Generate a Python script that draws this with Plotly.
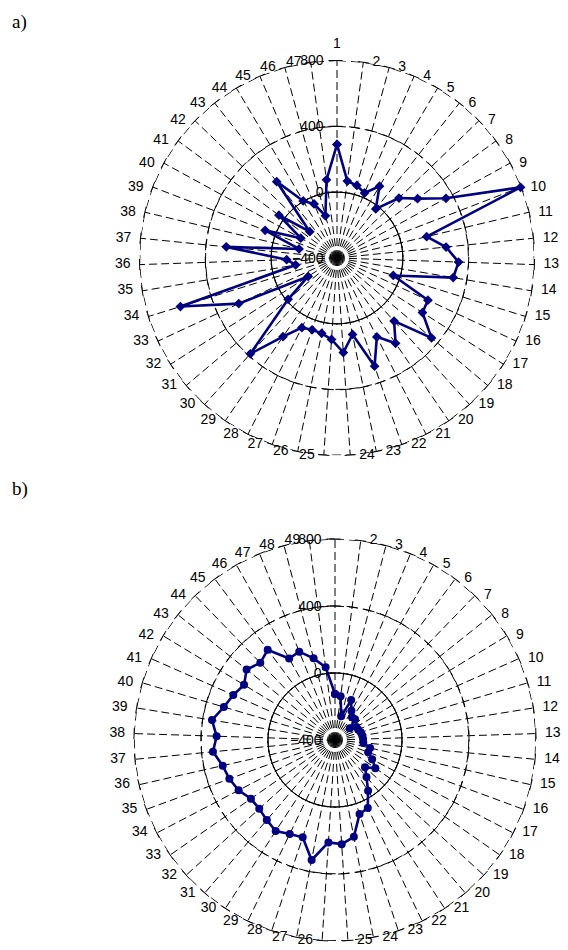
import plotly.graph_objects as go

# ---- data -------------------------------------------------------------
cats_a = [str(i) for i in range(1, 48)]
vals_a = [290, 72, 57, 29, 107, -20, 124, 208, 355, 795,
          160, 266, 339, 316, -42, 209, 216, 352, 117, 229,
          137, 296, 74, 176, 96, 67, 62, 74, 180, 385,
          -11, -192, 258, 596, -145, -94, 276, -163, 68, -149,
          38, -170, 191, 3, -43, -134, 79]

cats_b = [str(i) for i in range(1, 50)]
vals_b = [-125, -137, -254, -143, -200, -230, -228, -287, -250, -248,
          -240, -235, -232, -230, -185, -189, -150, -106, -158, -110,
          -38, 51, 65, 189, 223, 213, 330, 212, 223, 249,
          228, 211, 212, 249, 272, 288, 332, 307, 344, 292,
          264, 235, 275, 241, 272, 158, 169, 104, 38]
# the label of category 1 is not printed on panel b
labels_b = [""] + cats_b[1:]

radial_ticks = [-400, 0, 400, 800]
ring_levels = [0, 400, 800]
r_min, r_max = -400, 800

# ---- style ------------------------------------------------------------
W, H = 568, 950
NAVY = "#000080"
SANS = "Arial, 'Liberation Sans', sans-serif"
SERIF = "'Times New Roman', 'Liberation Serif', serif"

fig = go.Figure()


def add_radar(subplot, cats, vals, labels, symbol, msize):
    closed = cats + cats[:1]
    n = len(cats)
    spoke_angles = [i * 360.0 / n for i in range(n)]
    for lvl in ring_levels:
        fig.add_trace(go.Scatterpolar(
            r=[lvl] * len(closed), theta=closed, mode="lines",
            line=dict(color="black", width=1,
                      dash="solid" if lvl == 0 else "9px,5px"),
            subplot=subplot, hoverinfo="skip", showlegend=False))
        # value-axis tick marks repeated on every spoke
        fig.add_trace(go.Scatterpolar(
            r=[lvl] * n, theta=cats, mode="markers",
            marker=dict(symbol="line-ew", size=8, angle=spoke_angles,
                        line=dict(color="black", width=1)),
            subplot=subplot, hoverinfo="skip", showlegend=False))
    # category labels just outside the outer ring
    positions = ["top center" if a == 0 else
                 ("middle right" if a < 180 else "middle left")
                 for a in spoke_angles]
    fig.add_trace(go.Scatterpolar(
        r=[r_max] * n, theta=cats, mode="markers+text", text=labels,
        textposition=positions, cliponaxis=False,
        textfont=dict(family=SANS, size=14, color="black"),
        marker=dict(size=13, color="rgba(0,0,0,0)"),
        subplot=subplot, hoverinfo="skip", showlegend=False))
    fig.add_trace(go.Scatterpolar(
        r=vals + vals[:1], theta=closed, mode="lines+markers",
        line=dict(color=NAVY, width=2.6),
        marker=dict(symbol=symbol, size=msize, color=NAVY),
        subplot=subplot, showlegend=False))


add_radar("polar", cats_a, vals_a, cats_a, "diamond", 7.5)
add_radar("polar2", cats_b, vals_b, labels_b, "circle", 8)


def polar_layout(cx, cy, R, cats):
    return dict(
        domain=dict(x=[(cx - R) / W, (cx + R) / W],
                    y=[1 - (cy + R) / H, 1 - (cy - R) / H]),
        bgcolor="white",
        radialaxis=dict(range=[r_min, r_max], tickmode="array",
                        tickvals=radial_ticks, angle=90,
                        side="counterclockwise", showgrid=False,
                        showline=False, ticks="outside", ticklen=8,
                        tickcolor="black", tickangle=90,
                        tickfont=dict(family=SANS, size=14, color="black")),
        angularaxis=dict(type="category", rotation=90, direction="clockwise",
                         categoryorder="array", categoryarray=cats,
                         showticklabels=False,
                         showline=False, showgrid=True, gridcolor="black",
                         gridwidth=1, griddash="8px,4px", ticks=""),
    )


fig.update_layout(
    width=W, height=H, margin=dict(l=0, r=0, t=0, b=0),
    paper_bgcolor="white", plot_bgcolor="white",
    polar=polar_layout(337, 258, 197.5, cats_a),
    polar2=polar_layout(335, 740, 201, cats_b),
    annotations=[
        dict(text="a)", x=10 / W, y=1 - 9 / H, xref="paper", yref="paper",
             xanchor="left", yanchor="top", showarrow=False,
             font=dict(family=SERIF, size=19, color="black")),
        dict(text="b)", x=10 / W, y=1 - 476 / H, xref="paper", yref="paper",
             xanchor="left", yanchor="top", showarrow=False,
             font=dict(family=SERIF, size=19, color="black")),
    ],
)

fig.write_html("out.html")
